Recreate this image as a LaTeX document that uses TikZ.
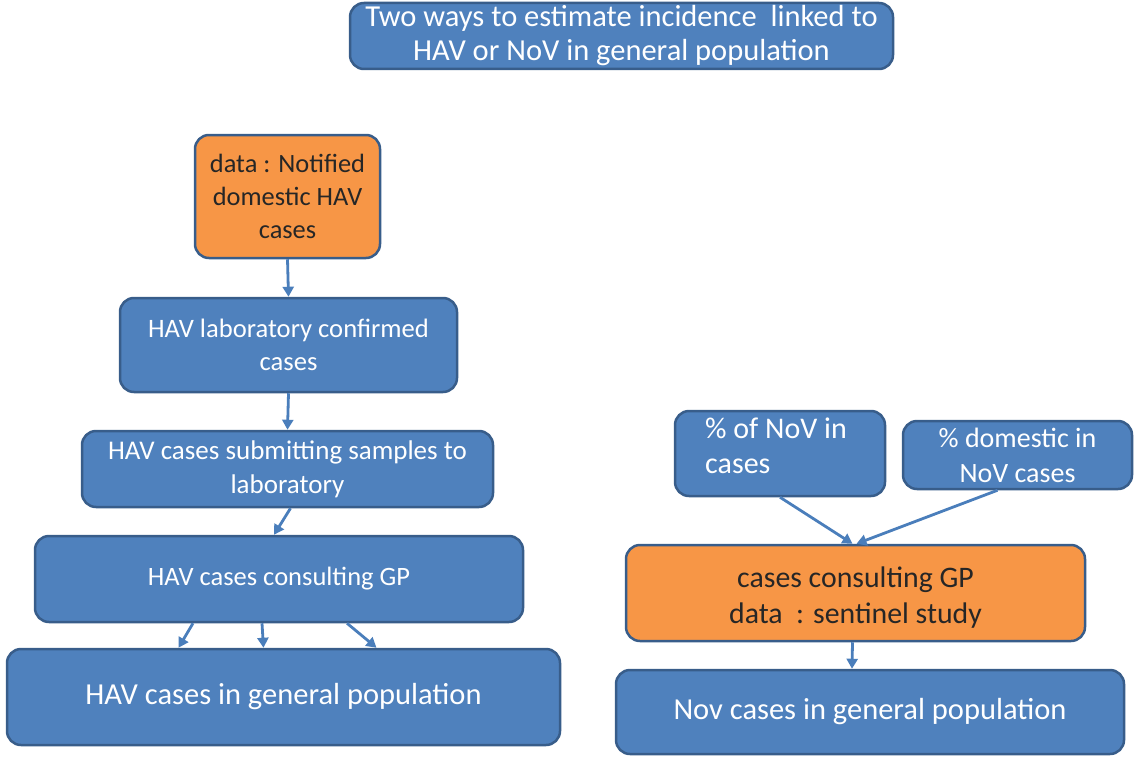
\documentclass[tikz,border=0pt]{standalone}
\usepackage{fontspec}
\setmainfont{Carlito}
\usetikzlibrary{arrows.meta}
\definecolor{boxblue}{HTML}{4F81BD}
\definecolor{boxedge}{HTML}{385D8A}
\definecolor{boxorange}{HTML}{F79646}
\definecolor{arrowblue}{HTML}{4A7EBB}
\tikzset{
  bluebox/.style={draw=boxedge, fill=boxblue, line width=2.5pt, rounded corners=14pt, text=white, align=center, inner sep=0pt},
  orangebox/.style={draw=boxedge, fill=boxorange, line width=2.5pt, rounded corners=14pt, text=black!85, align=center, inner sep=0pt},
  conn/.style={draw=arrowblue, line width=2.8pt, -{Triangle[length=10pt,width=11pt]}}
}
\begin{document}
\begin{tikzpicture}[x=1pt,y=-1pt]
\useasboundingbox (0,0) rectangle (1134,757);
\node[bluebox, minimum width=543, minimum height=66, font=\fontsize{30.5}{34}\selectfont] (title) at (621.5,36) {Two ways to estimate incidence\ \ linked to\\HAV or NoV in general population};
\node[orangebox, minimum width=185, minimum height=123, font=\fontsize{26.4}{33}\selectfont] (notif) at (287.5,196.5) {data : Notified\\domestic HAV\\cases};
\node[bluebox, minimum width=337, minimum height=94, font=\fontsize{26.6}{33}\selectfont] (lab) at (288.5,345) {HAV laboratory confirmed\\cases};
\node[bluebox, minimum width=411, minimum height=76, font=\fontsize{27}{34}\selectfont] (sub) at (287.5,469) {HAV cases submitting samples to\\laboratory};
\node[bluebox, minimum width=488, minimum height=86, font=\fontsize{26.5}{30}\selectfont] (gp) at (279,579) {HAV cases consulting GP};
\node[bluebox, minimum width=553, minimum height=96, font=\fontsize{30.5}{34}\selectfont] (gen) at (283.5,697) {HAV cases in general population};
\node[bluebox, minimum width=210, minimum height=85, font=\fontsize{30}{35}\selectfont] (nov1) at (780,453.5) {\raisebox{5pt}[\height][\depth]{\hspace{-8pt}\begin{tabular}{@{}l@{}}\% of NoV in\\cases\end{tabular}}};
\node[bluebox, minimum width=229, minimum height=68, font=\fontsize{28}{35}\selectfont] (dom) at (1017.5,455) {\% domestic in\\NoV cases};
\node[orangebox, minimum width=459, minimum height=96, font=\fontsize{29.8}{36}\selectfont] (ogp) at (855.5,593) {\raisebox{-5pt}[\height][\depth]{\begin{tabular}{@{}c@{}}cases consulting GP\\data\ \ : sentinel study\end{tabular}}};
\node[bluebox, minimum width=508, minimum height=84, font=\fontsize{30.5}{34}\selectfont] (novgen) at (870,712) {Nov cases in general population};
\draw[conn] (notif.south) -- (lab.north);
\draw[conn] (lab.south) -- (sub.north);
\draw[conn] ([xshift=3]sub.south) -- ([xshift=-5]gp.north);
\draw[conn] ([xshift=-86]gp.south) -- ([xshift=-105]gen.north);
\draw[conn] ([xshift=-17]gp.south) -- ([xshift=-20]gen.north);
\draw[conn] ([xshift=68]gp.south) -- ([xshift=93]gen.north);
\draw[conn] (nov1.south) -- ([xshift=-3]ogp.north);
\draw[conn] ([xshift=-20]dom.south) -- ([xshift=1]ogp.north);
\draw[conn] ([xshift=-3]ogp.south) -- ([xshift=-18]novgen.north);
\end{tikzpicture}
\end{document}
